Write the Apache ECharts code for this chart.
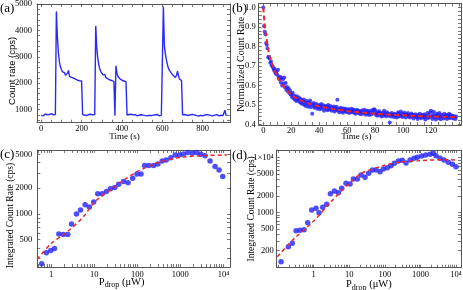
<!DOCTYPE html>
<html><head><meta charset="utf-8">
<script src="https://cdn.jsdelivr.net/npm/echarts@6/dist/echarts.min.js"></script>
<style>html,body{margin:0;padding:0;background:#fff}#c{width:463px;height:290px}</style>
</head><body><div id="c"></div>
<script>
// ---------- (a) count rate trace, sampled every 5 s ----------
const stepA = 5;
const rateA = [
 780,820,760,805,830,770,795,750,810,780,845,770,800,760,810,
 4720,3750,3150,2800,2620,2520,2430,2370,2400,2300,2340,2380,2480,2260,2300,2220,2270,2190,2230,2150,2200,2110,2160,2090,2140,2080,
 800,760,790,830,770,740,810,780,820,760,795,770,810,
 4170,3350,2950,2700,2540,2440,2380,2320,2280,2330,2210,2260,2160,2200,2120,2170,2100,2140,2060,
 760,
 2660,2380,2260,2200,2160,2190,2110,2140,2080,2110,2050,
 790,760,810,780,820,750,795,770,805,780,760,815,790,770,800,750,785,820,770,795,760,810,780,800,770,825,785,760,800,775,810,790,765,800,780,810,
 4900,
 3400,3100,2880,2700,2560,2480,2420,2370,2330,2280,2240,2220,2300,2450,2280,2150,2130,2100,
 800,770,810,760,790,820,775,745,800,785,815,760,790,830,770,800,755,810,780,795,765,820,790,770,805,750,795,830,775,800,760,815,785,770,805,790,760,820,780,800,770,810,975,790,780
];
const aXLabels = [0,200,400,600,800];
const aYLabels = [1000,2000,3000,4000,5000];

// ---------- (b) normalized count rate, every 0.5 s ----------
const stepB = 0.5;
const normB = [
 1.000,0.905,0.875,0.862,0.818,0.808,0.790,0.744,0.747,0.738,
 0.716,0.722,0.704,0.698,0.690,0.679,0.685,0.668,0.660,0.672,
 0.655,0.680,0.640,0.632,0.645,0.615,0.638,0.600,0.632,0.610,
 0.640,0.590,0.612,0.578,0.592,0.570,0.585,0.562,0.575,0.555,
 0.552,0.540,0.562,0.535,0.548,0.528,0.540,0.520,0.545,0.532,
 0.522,0.538,0.515,0.530,0.510,0.525,0.505,0.518,0.528,0.500,
 0.512,0.495,0.520,0.508,0.490,0.515,0.502,0.522,0.488,0.505,
 0.455,0.498,0.510,0.485,0.500,0.492,0.505,0.480,0.496,0.488,
 0.500,0.478,0.493,0.505,0.482,0.490,0.498,0.470,0.488,0.495,
 0.480,0.492,0.472,0.500,0.485,0.476,0.495,0.482,0.470,0.488,
 0.478,0.492,0.466,0.484,0.474,0.490,0.527,0.470,0.480,0.462,
 0.476,0.485,0.468,0.478,0.460,0.482,0.472,0.466,0.480,0.470,
 0.462,0.475,0.478,0.458,0.470,0.465,0.480,0.462,0.472,0.476,
 0.460,0.470,0.455,0.468,0.475,0.462,0.458,0.470,0.465,0.452,
 0.468,0.460,0.472,0.455,0.462,0.475,0.458,0.450,0.466,0.470,
 0.455,0.462,0.448,0.470,0.458,0.452,0.465,0.475,0.460,0.478,
 0.472,0.450,0.458,0.445,0.462,0.455,0.468,0.448,0.457,0.440,
 0.452,0.460,0.445,0.470,0.450,0.456,0.442,0.462,0.448,0.455,
 0.445,0.410,0.452,0.440,0.458,0.447,0.450,0.438,0.455,0.444,
 0.448,0.435,0.452,0.462,0.440,0.455,0.445,0.466,0.450,0.438,
 0.455,0.443,0.460,0.448,0.436,0.452,0.446,0.458,0.440,0.450,
 0.435,0.448,0.456,0.442,0.450,0.430,0.446,0.440,0.452,0.438,
 0.445,0.428,0.448,0.438,0.455,0.442,0.432,0.450,0.440,0.446,
 0.436,0.452,0.425,0.445,0.440,0.458,0.433,0.447,0.438,0.462,
 0.470,0.440,0.428,0.450,0.465,0.435,0.445,0.425,0.455,0.440,
 0.448,0.432,0.458,0.440,0.426,0.450,0.438,0.445,0.430,0.455,
 0.442,0.436,0.450,0.428,0.446,0.438,0.455,0.432,0.448,0.440,
 0.435,0.445,0.430,0.442,0.437,0.428,0.440
];
const fitTB = [0,0.5,1,1.5,2,3,4,5,6,8,10,12,15,20,25,30,40,50,60,70,80,90,100,110,120,130,138];
const fitB  = [1.0,0.95,0.91,0.88,0.855,0.805,0.765,0.735,0.715,0.68,0.65,0.622,0.59,0.552,0.53,0.513,0.493,0.479,0.469,0.461,0.455,0.45,0.447,0.443,0.441,0.439,0.437];
const bXLabels = [0,20,40,60,80,100,120];
const bYLabels = [0.4,0.5,0.6,0.7,0.8,0.9,1.0];

// ---------- (c) integrated count rate vs P_drop ----------
const cPower = [0.60,0.77,0.97,1.19,1.5,1.9,2.43,2.96,3.86,4.78,6.13,7.7,9.7,12.0,15.2,19.1,23.7,29.9,37,48,61,78,98,122,148,186,239,301,379,470,603,759,955,1184,1492,1906,2409,2985,3758,4900,6410,7940,9660];
const cRate  = [260,349,372,393,582,572,572,762,997,1109,1281,1202,1377,1722,1722,1833,1968,2040,2233,2400,2313,2623,2946,2946,3688,3688,3688,3856,4178,4296,4571,4910,4910,5050,5270,5140,5270,5000,4820,4178,3590,3280,2741];
const cFitP = [0.47,1,2.35,5.7,10,23.7,57,100,239,490,1000,2900,10000,12000];
const cFitR = [292,449,615,936,1364,1918,2624,3139,3822,4295,4613,4822,4911,4920];
const cXTicks = [1,10,100,1000,10000];
const cXTickText = ['1','10','100','1000','10\u2074'];
const cYTicks = [500,1000,2000,5000];
const cYTickText = ['500','1000','2000','5000'];

// ---------- (d) integrated count rate vs P_drop ----------
const dPower = [0.121,0.194,0.251,0.319,0.413,0.535,0.678,0.879,1.16,1.41,1.79,2.32,2.94,3.81,4.93,6.12,8.11,10.5,13.0,16.9,21.4,27.7,35.2,44.6,56.5,73.1,90.8,117,149,185,240,310,393,510,660,819,1084,1405,1858,2307,2741,3550,4600,6090,7890,10000];
const dRate  = [125,235,271,462,469,482,647,1104,1183,986,1234,1400,2195,2455,2290,2750,3393,3300,4070,4070,4820,4370,5170,5950,5950,5545,6205,6563,7138,7875,8690,8937,7986,9064,9723,10140,10727,11190,11510,12000,10880,9720,9060,8220,7550,6840];
const dFitP = [0.095,0.286,1,3.07,9.42,22.3,90.8,240,973,4400,10400];
const dFitR = [155,334,694,1567,3251,5170,7138,8220,8810,9190,9060];
const dXTicks = [1,10,100,1000,10000];
const dXTickText = ['1','10','100','1000','10\u2074'];
const dYTicks = [200,500,1000,2000,5000,10000];
const dYTickText = ['200','500','1000','2000','5000','1\u00d710\u2074'];

// ---------- helpers ----------
const SERIF = '"Liberation Serif","Times New Roman",serif';
const SANS = '"Liberation Sans",Arial,sans-serif';
const FRAME = '#555';
const BLUE = '#2222ff';
const RED = '#e8262a';
const L = a => a.map(v => Math.log10(v));
const pairs = (x, y) => x.map((v, i) => [v, y[i]]);
function lin(a, b, s) { const r = []; for (let i = 0; a + i * s <= b + 1e-9; i++) r.push(+(a + i * s).toFixed(6)); return r; }
function logTicks(lo, hi) { const r = []; for (let d = Math.floor(lo); d <= Math.ceil(hi); d++) for (let k = 1; k < 10; k++) { const v = Math.log10(k) + d; if (v >= lo && v <= hi) r.push(v); } return r; }
function logFmt(vals, texts) { return v => { for (let i = 0; i < vals.length; i++) if (Math.abs(Math.log10(vals[i]) - v) < 1e-6) return texts[i]; return ''; }; }

function ax(o) {
  return {
    type: 'value', gridIndex: o.g, position: o.pos, min: o.min, max: o.max,
    axisLine: { show: true, onZero: false, lineStyle: { color: FRAME, width: 1 } },
    axisTick: { show: true, inside: true, length: 3, lineStyle: { color: FRAME, width: 0.8 }, customValues: o.ticks },
    minorTick: { show: false }, splitLine: { show: false }, splitArea: { show: false },
    axisLabel: o.labels ? { show: true, customValues: o.labels, formatter: o.fmt, margin: o.margin, fontFamily: SERIF, fontSize: 8.5, color: '#000' } : { show: false },
    name: o.name || '', nameLocation: 'middle', nameGap: o.gap || 0, nameMoveOverlap: false,
    nameTextStyle: o.nts || {}
  };
}
const nameStyle = (size, fam, pad, extra) => Object.assign({ fontFamily: fam, fontSize: size, color: '#000', padding: pad }, extra || {});
const pdropName = '{p|P}{s|drop}{p| (\u03bcW)}';
const pdropRich = pad => ({ padding: pad, rich: { p: { fontFamily: SERIF, fontSize: 10.5, color: '#000' }, s: { fontFamily: SERIF, fontSize: 8, color: '#000', padding: [6, 0, 0, 0] } } });

const cX = [-0.324, 4.154], cY = [2.376, 3.75];
const dX = [-1.04, 4.14], dY = [1.988, 4.14];

const xAxis = [
  ax({ g: 0, pos: 'bottom', min: -21, max: 935, ticks: lin(0, 900, 50), labels: aXLabels, fmt: v => String(v), margin: 2,
       name: 'Time (s)', gap: 9, nts: nameStyle(9, SERIF, [0, 18, 0, 0]) }),
  ax({ g: 0, pos: 'top', min: -21, max: 935, ticks: lin(0, 900, 50) }),
  ax({ g: 1, pos: 'bottom', min: -3.3, max: 141.5, ticks: lin(0, 140, 5), labels: bXLabels, fmt: v => String(v), margin: 1,
       name: 'Time (s)', gap: 7, nts: nameStyle(9, SERIF, [0, 7, 0, 0]) }),
  ax({ g: 1, pos: 'top', min: -3.3, max: 141.5, ticks: lin(0, 140, 5) }),
  ax({ g: 2, pos: 'bottom', min: cX[0], max: cX[1], ticks: logTicks(cX[0], cX[1]), labels: L(cXTicks), fmt: logFmt(cXTicks, cXTickText), margin: 3,
       name: pdropName, gap: 8, nts: pdropRich([0, 24, 0, 0]) }),
  ax({ g: 2, pos: 'top', min: cX[0], max: cX[1], ticks: logTicks(cX[0], cX[1]) }),
  ax({ g: 3, pos: 'bottom', min: dX[0], max: dX[1], ticks: logTicks(dX[0], dX[1]), labels: L(dXTicks), fmt: logFmt(dXTicks, dXTickText), margin: 3,
       name: pdropName, gap: 10, nts: pdropRich([0, 0, 0, 0]) }),
  ax({ g: 3, pos: 'top', min: dX[0], max: dX[1], ticks: logTicks(dX[0], dX[1]) })
];
const yAxis = [
  ax({ g: 0, pos: 'left', min: 500, max: 5000, ticks: lin(600, 5000, 200), labels: aYLabels, fmt: v => String(v), margin: 5,
       name: 'Count rate (cps)', gap: 20, nts: nameStyle(9.5, SANS, [0, 15, 0, 0]) }),
  ax({ g: 0, pos: 'right', min: 500, max: 5000, ticks: lin(600, 5000, 200) }),
  ax({ g: 1, pos: 'left', min: 0.397, max: 1.02, ticks: lin(0.4, 1.02, 0.02), labels: bYLabels, fmt: v => v.toFixed(1), margin: 3,
       name: 'Normalized Count Rate', gap: 12, nts: nameStyle(10, SERIF, [0, 0, 0, 0]) }),
  ax({ g: 1, pos: 'right', min: 0.397, max: 1.02, ticks: lin(0.4, 1.02, 0.02) }),
  ax({ g: 2, pos: 'left', min: cY[0], max: cY[1], ticks: logTicks(cY[0], cY[1]), labels: L(cYTicks), fmt: logFmt(cYTicks, cYTickText), margin: 5,
       name: 'Integrated Count Rate (cps)', gap: 22, nts: nameStyle(9.5, SERIF, [0, 14, 0, 0]) }),
  ax({ g: 2, pos: 'right', min: cY[0], max: cY[1], ticks: logTicks(cY[0], cY[1]) }),
  ax({ g: 3, pos: 'left', min: dY[0], max: dY[1], ticks: logTicks(dY[0], dY[1]), labels: L(dYTicks), fmt: logFmt(dYTicks, dYTickText), margin: 3,
       name: 'Integrated Count Rate (cps)', gap: 20, nts: nameStyle(9.5, SERIF, [0, 0, 0, 0]) }),
  ax({ g: 3, pos: 'right', min: dY[0], max: dY[1], ticks: logTicks(dY[0], dY[1]) })
];

const gridBase = { containLabel: false, outerBoundsMode: 'none', show: false };
const titleStyle = { fontFamily: SERIF, fontSize: 13, fontWeight: 'normal', color: '#000' };

const option = {
  animation: false,
  backgroundColor: '#fff',
  title: [
    { text: '(a)', left: 0, top: 2, padding: 0, textStyle: titleStyle },
    { text: '(b)', left: 232, top: 2, padding: 0, textStyle: titleStyle },
    { text: '(c)', left: 0, top: 148, padding: 0, textStyle: titleStyle },
    { text: '(d)', left: 232, top: 149, padding: 0, textStyle: titleStyle }
  ],
  grid: [
    Object.assign({ left: 37, top: 4, width: 193, height: 118.7 }, gridBase),
    Object.assign({ left: 258.7, top: 3.5, width: 202.3, height: 121.5 }, gridBase),
    Object.assign({ left: 37.3, top: 150, width: 192.7, height: 117 }, gridBase),
    Object.assign({ left: 276.7, top: 150, width: 184.3, height: 117.7 }, gridBase)
  ],
  xAxis, yAxis,
  series: [
    { type: 'line', xAxisIndex: 0, yAxisIndex: 0, data: pairs(rateA.map((_, i) => i * stepA), rateA),
      symbol: 'none', lineStyle: { color: '#2a2af8', width: 1.4 } },
    { type: 'scatter', xAxisIndex: 2, yAxisIndex: 2, data: pairs(normB.map((_, i) => i * stepB), normB),
      symbolSize: 4, itemStyle: { color: BLUE } },
    { type: 'line', xAxisIndex: 2, yAxisIndex: 2, data: pairs(fitTB, fitB), symbol: 'none', smooth: 0.3,
      lineStyle: { color: RED, width: 2, type: [5, 3] } },
    { type: 'scatter', xAxisIndex: 4, yAxisIndex: 4, data: pairs(L(cPower), L(cRate)),
      symbolSize: 5.5, itemStyle: { color: BLUE } },
    { type: 'line', xAxisIndex: 4, yAxisIndex: 4, data: pairs(L(cFitP), L(cFitR)), symbol: 'none', smooth: 0.3,
      lineStyle: { color: RED, width: 1.5, type: [4, 3] } },
    { type: 'scatter', xAxisIndex: 6, yAxisIndex: 6, data: pairs(L(dPower), L(dRate)),
      symbolSize: 5.5, itemStyle: { color: BLUE } },
    { type: 'line', xAxisIndex: 6, yAxisIndex: 6, data: pairs(L(dFitP), L(dFitR)), symbol: 'none', smooth: 0.3,
      lineStyle: { color: RED, width: 1.5, type: [4, 3] } }
  ]
};
const chart = echarts.init(document.getElementById('c'), null, { renderer: 'canvas' });
chart.setOption(option);
</script>
</body></html>
